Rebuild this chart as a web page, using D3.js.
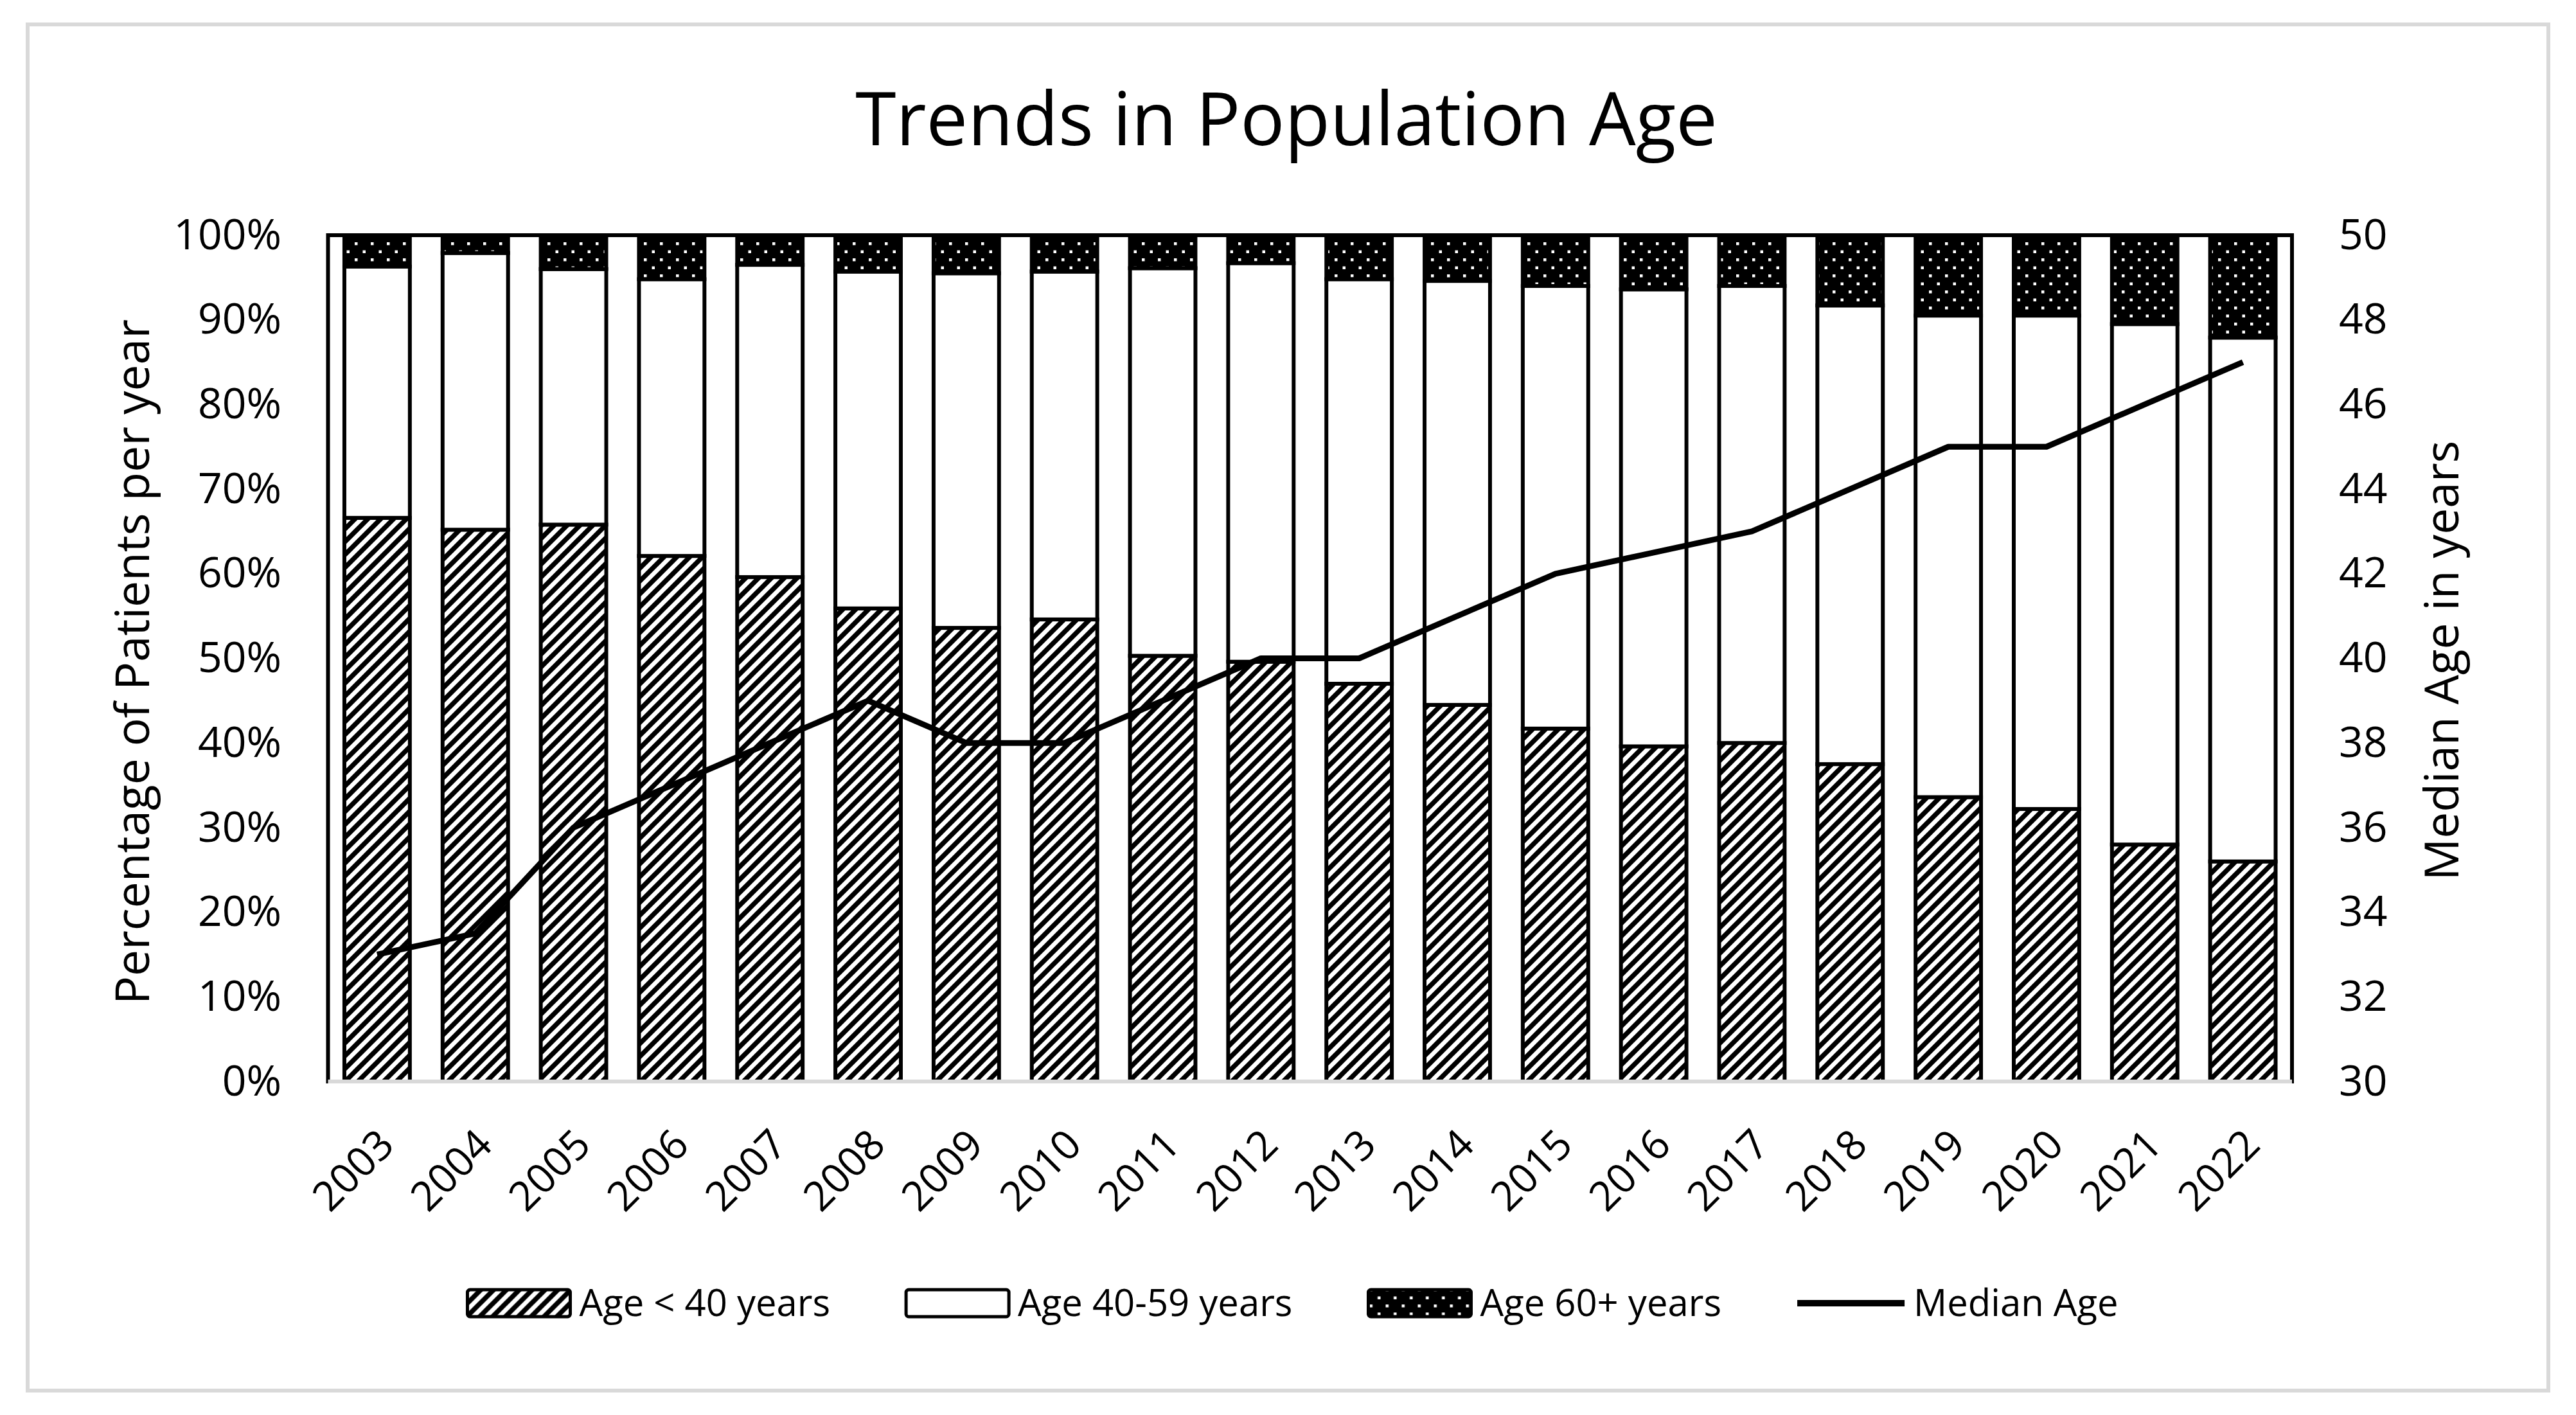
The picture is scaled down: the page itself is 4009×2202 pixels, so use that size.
<!DOCTYPE html>
<html lang="en">
<head>
  <meta charset="UTF-8">
  <title>Trends in Population Age</title>
  <script src="https://cdn.jsdelivr.net/npm/d3@7"></script>
  <style>
    body {
      margin: 0;
      background-color: #fff;
    }
    text {
      font-family: "Open Sans", "Noto Sans", sans-serif;
      fill: #000;
    }
  </style>
</head>
<body>
  <script>
    // Data
    const years = ["2003", "2004", "2005", "2006", "2007", "2008", "2009", "2010", "2011", "2012",
                   "2013", "2014", "2015", "2016", "2017", "2018", "2019", "2020", "2021", "2022"];
    const under40 = [66.6, 65.2, 65.8, 62.1, 59.6, 55.9, 53.6, 54.6, 50.3, 49.6,
                     47.0, 44.5, 41.7, 39.6, 40.0, 37.5, 33.6, 32.2, 28.0, 26.0];
    const age40to59 = [29.7, 32.7, 30.2, 32.7, 36.9, 39.8, 41.9, 41.1, 45.8, 47.1,
                       47.8, 50.1, 52.3, 54.0, 54.0, 54.2, 56.9, 58.3, 61.5, 61.9];
    const age60plus = [3.7, 2.1, 4.0, 5.2, 3.5, 4.3, 4.5, 4.3, 3.9, 3.3,
                       5.2, 5.4, 6.0, 6.4, 6.0, 8.3, 9.5, 9.5, 10.5, 12.1];
    const medianAge = [33, 33.5, 36, 37, 38, 39, 38, 38, 39, 40,
                       40, 41, 42, 42.5, 43, 44, 45, 45, 46, 47];
    const pctTicks = [0, 10, 20, 30, 40, 50, 60, 70, 80, 90, 100];
    const ageTicks = [30, 32, 34, 36, 38, 40, 42, 44, 46, 48, 50];
    const seriesNames = ["Age < 40 years", "Age 40-59 years", "Age 60+ years"];

    const W = 4009, H = 2202;
    const plot = { left: 510.5, right: 3567, top: 366, bottom: 1683 };

    const svg = d3.select("body").append("svg")
      .attr("width", W)
      .attr("height", H);

    // patterns
    const defs = svg.append("defs");
    const hatch = defs.append("pattern")
      .attr("id", "hatch")
      .attr("patternUnits", "userSpaceOnUse")
      .attr("width", 20).attr("height", 20);
    hatch.append("rect").attr("width", 20).attr("height", 20).attr("fill", "#fff");
    hatch.append("path")
      .attr("d", "M-10,10L10,-10M0,20L20,0M10,30L30,10")
      .attr("stroke", "#000")
      .attr("stroke-width", 7.5);

    const dots = defs.append("pattern")
      .attr("id", "dots")
      .attr("patternUnits", "userSpaceOnUse")
      .attr("width", 25).attr("height", 25);
    dots.append("rect").attr("width", 25).attr("height", 25).attr("fill", "#000");
    dots.append("rect").attr("x", 2).attr("y", 2).attr("width", 4.5).attr("height", 4.5).attr("fill", "#fff");
    dots.append("rect").attr("x", 14.5).attr("y", 14.5).attr("width", 4.5).attr("height", 4.5).attr("fill", "#fff");

    const fills = ["url(#hatch)", "#fff", "url(#dots)"];

    // outer border
    svg.append("rect")
      .attr("x", 43).attr("y", 38)
      .attr("width", W - 86).attr("height", H - 76)
      .attr("fill", "#fff")
      .attr("stroke", "#d9d9d9")
      .attr("stroke-width", 6);

    // title
    svg.append("text")
      .attr("x", 2002).attr("y", 226)
      .attr("text-anchor", "middle")
      .style("font-size", "115px")
      .text("Trends in Population Age");

    // scales
    const x = d3.scaleBand()
      .domain(years)
      .range([plot.left, plot.right])
      .paddingInner(1 / 3)
      .paddingOuter(1 / 6);

    const y = d3.scaleLinear()
      .domain([0, 100])
      .range([plot.bottom, plot.top]);

    const y2 = d3.scaleLinear()
      .domain([30, 50])
      .range([plot.bottom, plot.top]);

    // plot frame
    svg.append("rect")
      .attr("x", plot.left).attr("y", plot.top)
      .attr("width", plot.right - plot.left)
      .attr("height", plot.bottom - plot.top)
      .attr("fill", "#fff")
      .attr("stroke", "#000")
      .attr("stroke-width", 6);

    // stacked bars
    const rows = years.map((yr, i) => ({
      year: yr, a: under40[i], b: age40to59[i], c: age60plus[i]
    }));
    const stacked = d3.stack().keys(["a", "b", "c"])(rows);

    stacked.forEach((layer, k) => {
      svg.append("g")
        .selectAll("rect")
        .data(layer)
        .enter()
        .append("rect")
        .attr("x", d => x(d.data.year))
        .attr("y", d => y(Math.min(d[1], 100)))
        .attr("width", x.bandwidth())
        .attr("height", d => y(d[0]) - y(Math.min(d[1], 100)))
        .attr("fill", fills[k])
        .attr("stroke", "#000")
        .attr("stroke-width", 6);
    });

    // bottom axis line
    svg.append("line")
      .attr("x1", plot.left).attr("x2", plot.right)
      .attr("y1", plot.bottom).attr("y2", plot.bottom)
      .attr("stroke", "#d9d9d9")
      .attr("stroke-width", 6);

    // median age line
    const line = d3.line()
      .x((d, i) => x(years[i]) + x.bandwidth() / 2)
      .y(d => y2(d));

    svg.append("path")
      .datum(medianAge)
      .attr("d", line)
      .attr("fill", "none")
      .attr("stroke", "#000")
      .attr("stroke-width", 9)
      .attr("stroke-linejoin", "round");

    // axes
    const leftAxis = svg.append("g")
      .attr("transform", "translate(438,0)")
      .call(d3.axisLeft(y).tickValues(pctTicks).tickSize(0).tickPadding(0).tickFormat(d => d + "%"));
    leftAxis.select(".domain").remove();
    leftAxis.selectAll("text").style("font-size", "66px").style("font-family", null);

    const rightAxis = svg.append("g")
      .attr("transform", "translate(3640,0)")
      .call(d3.axisRight(y2).tickValues(ageTicks).tickSize(0).tickPadding(0));
    rightAxis.select(".domain").remove();
    rightAxis.selectAll("text").style("font-size", "66px").style("font-family", null);

    const bottomAxis = svg.append("g")
      .attr("transform", `translate(0,${plot.bottom})`)
      .call(d3.axisBottom(x).tickSize(0));
    bottomAxis.select(".domain").remove();
    bottomAxis.selectAll("text")
      .attr("y", null)
      .attr("dy", null)
      .attr("text-anchor", "end")
      .attr("transform", "translate(30,102) rotate(-45)")
      .style("font-size", "64px")
      .style("font-family", null);

    // axis titles
    svg.append("text")
      .attr("transform", "translate(206,1030) rotate(-90)")
      .attr("text-anchor", "middle")
      .attr("dy", "0.35em")
      .style("font-size", "73px")
      .text("Percentage of Patients per year");

    svg.append("text")
      .attr("transform", "translate(3800,1028) rotate(-90)")
      .attr("text-anchor", "middle")
      .attr("dy", "0.35em")
      .style("font-size", "73px")
      .text("Median Age in years");

    // legend
    const legend = svg.append("g");
    const legendItems = seriesNames.map((n, i) => ({ name: n, fill: fills[i], kind: "box" }))
      .concat([{ name: "Median Age", kind: "line" }]);
    let lx = 0;
    const swW = 160, swH = 42, gapText = 14, gapItem = 118;
    legendItems.forEach(it => {
      const g = legend.append("g").attr("transform", `translate(${lx},0)`);
      let sw = swW;
      if (it.kind === "box") {
        g.append("rect")
          .attr("x", 0).attr("y", -swH / 2)
          .attr("width", swW).attr("height", swH)
          .attr("rx", 4)
          .attr("fill", it.fill)
          .attr("stroke", "#000")
          .attr("stroke-width", 5);
      } else {
        sw = 167;
        g.append("line")
          .attr("x1", 0).attr("x2", sw)
          .attr("y1", 0).attr("y2", 0)
          .attr("stroke", "#000")
          .attr("stroke-width", 10);
      }
      const t = g.append("text")
        .attr("x", sw + gapText)
        .attr("dy", "0.35em")
        .style("font-size", "58px")
        .text(it.name);
      lx += sw + gapText + t.node().getComputedTextLength() + gapItem;
    });
    const legendW = lx - gapItem;
    legend.attr("transform", `translate(${2012 - legendW / 2},2028)`);
  </script>
</body>
</html>
